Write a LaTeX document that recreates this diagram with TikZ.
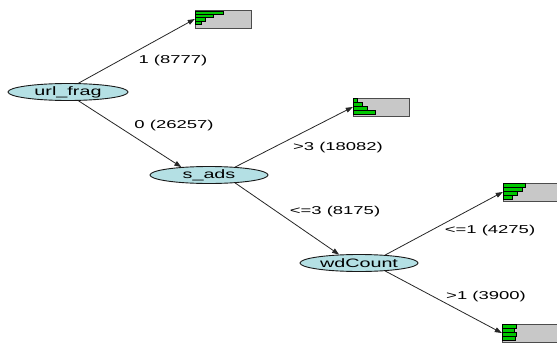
\documentclass[tikz,border=0pt]{standalone}
\usepackage{fontspec}
\setmainfont{Liberation Sans}[FakeStretch=1.62]
\usetikzlibrary{shapes.geometric,arrows.meta,calc}
\definecolor{nodefill}{HTML}{B4E0E4}
\definecolor{leaffill}{HTML}{C8C8C8}
\definecolor{bargreen}{HTML}{00C800}
\begin{document}
\begin{tikzpicture}[x=1pt,y=-1pt,
  split/.style={ellipse, draw=black!90, line width=0.9pt, fill=nodefill, minimum width=120pt, minimum height=17pt, inner sep=0pt, font=\fontsize{12.2}{14}\selectfont},
  leaf/.style={rectangle, draw=black!70, fill=leaffill, minimum width=56pt, minimum height=18pt, inner sep=0pt},
  edge/.style={draw=black!85, line width=0.8pt, -{Triangle[length=7pt,width=5pt]}},
  elabel/.style={font=\fontsize{11.4}{13}\selectfont, inner sep=0pt},
  bar/.style={fill=bargreen, draw=black, line width=0.5pt}]
\useasboundingbox (0,0) rectangle (557,343);
\node[split] (uf) at (68,92) {url\_frag};
\node[split, minimum width=118pt] (sa) at (209,175) {s\_ads};
\node[split, minimum width=118pt] (wc) at (359,263) {wdCount};
\node[leaf] (l1) at (223,19) {};
\node[leaf] (l2) at (381,107) {};
\node[leaf] (l3) at (531,192) {};
\node[leaf] (l4) at (530,333) {};
\foreach \a/\b/\w in {1/4/28, 4/7.5/18, 7.5/11/10, 11/14/6}
  \draw[bar] ($(l1.north west)+(0,\a)$) rectangle ($(l1.north west)+(\w,\b)$);
\foreach \a/\b/\w in {0.5/4/4, 4/8/9, 8/12/14, 12/16/22}
  \draw[bar] ($(l2.north west)+(0,\a)$) rectangle ($(l2.north west)+(\w,\b)$);
\foreach \a/\b/\w in {0.5/4/22, 4/8/19, 8/12/14, 12/16/9}
  \draw[bar] ($(l3.north west)+(0,\a)$) rectangle ($(l3.north west)+(\w,\b)$);
\foreach \a/\b/\w in {0.5/4.5/14, 4.5/8.5/12, 8.5/12.5/14, 12.5/16.5/13}
  \draw[bar] ($(l4.north west)+(0,\a)$) rectangle ($(l4.north west)+(\w,\b)$);
\draw[edge] (uf.40) -- (l1.west);
\draw[edge] (uf.-40) -- (sa.164);
\draw[edge] (sa.17) -- (l2.west);
\draw[edge] (sa.-17) -- (wc.157);
\draw[edge] (wc.17) -- (l3.west);
\draw[edge] (wc.-17) -- (l4.west);
\node[elabel] (e1) at (173,61) {1 (8777)};
\node[elabel] (e2) at (174,126) {0 (26257)};
\node[elabel] (e3) at (338,148) {>3 (18082)};
\node[elabel] (e4) at (335,212) {<=3 (8175)};
\node[elabel] (e5) at (490,231) {<=1 (4275)};
\node[elabel] (e6) at (486,297) {>1 (3900)};
\end{tikzpicture}
\end{document}
